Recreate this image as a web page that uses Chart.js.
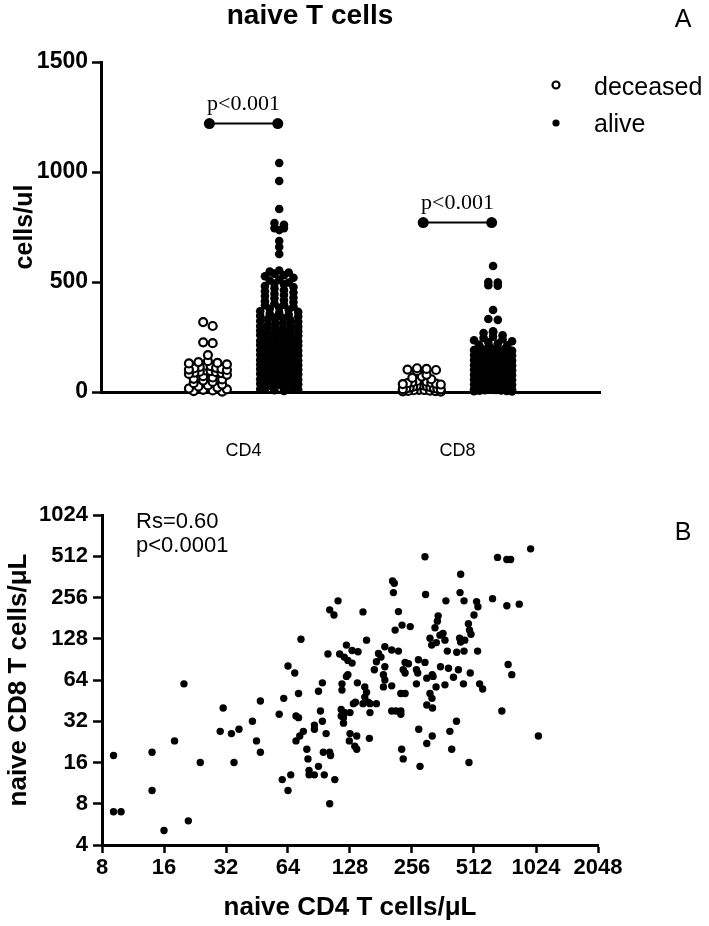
<!DOCTYPE html>
<html>
<head>
<meta charset="utf-8">
<script src="https://cdn.jsdelivr.net/npm/chart.js@4.4.1/dist/chart.umd.min.js"></script>
<style>
  html, body { margin: 0; padding: 0; background: #fff; }
  #wrap { position: relative; width: 709px; height: 926px; }
  canvas { position: absolute; left: 0; }
  #chartA { top: 0; }
  #chartB { top: 470px; }
</style>
</head>
<body>
<div id="wrap">
  <canvas id="chartA" width="709" height="470"></canvas>
  <canvas id="chartB" width="709" height="456"></canvas>
</div>
<script>
// ---- panel A: naive T cells/ul by outcome ----
const groups = ['CD4', 'CD8'];
const cd4Deceased = [318, 300, 226, 222, 168, 140, 136, 132, 130, 126, 120, 118, 114, 110, 108, 105, 102, 100,
  98, 95, 92, 90, 88, 86, 82, 78, 72, 66, 60, 57, 52, 46, 40, 34, 30, 25, 20, 16, 12, 10, 7, 4, 2];
const cd4Alive = [1041, 959, 832, 768, 760, 745, 745, 736, 686, 659, 627,
  552, 547, 543, 538, 531, 526, 519, 511, 507, 498, 493, 489, 482, 477, 471, 463, 458, 452, 447, 441, 436,
  429, 426, 418, 413, 409, 402, 397, 394, 388, 383, 378, 374, 367, 364, 360, 355, 351, 346, 343, 338, 335,
  331, 326, 323, 319, 315, 311, 306, 304, 300, 297, 293, 289, 286, 283, 279, 276, 272, 270, 266, 262, 259,
  256, 252, 249, 246, 243, 240, 236, 233, 231, 227, 223, 221, 217, 214, 211, 208, 205, 203, 199, 196, 193,
  191, 187, 184, 181, 178, 176, 172, 169, 166, 164, 161, 157, 154, 152, 149, 146, 143, 140, 136, 134, 131,
  128, 125, 122, 119, 115, 113, 110, 107, 104, 101, 98, 95, 92, 88, 86, 83, 80, 76, 74, 71, 68, 65, 62, 58,
  56, 53, 50, 47, 44, 41, 37, 35, 32, 29, 26, 23, 20, 17, 14, 11, 8, 5];
const cd8Deceased = [108, 105, 102, 100, 96, 78, 70, 64, 58, 54, 50, 47, 44, 42, 40, 38, 36, 34, 32, 30,
  28, 26, 24, 22, 20, 18, 16, 15, 13, 12, 10, 9, 8, 6, 5, 4, 3, 2];
const cd8Alive = [573, 500, 497, 485, 483, 373, 332, 328, 276, 272, 268,
  258, 251, 246, 240, 235, 231, 226, 220, 216, 212, 207, 203, 198, 195, 191, 187, 184, 180, 177, 174, 171,
  168, 166, 163, 160, 158, 155, 153, 150, 148, 146, 143, 141, 139, 136, 134, 132, 130, 127, 125, 123, 121,
  119, 117, 115, 113, 111, 109, 107, 105, 103, 101, 99, 97, 96, 94, 92, 90, 89, 87, 85, 83, 82, 80, 78, 77,
  75, 73, 72, 70, 68, 67, 65, 64, 62, 60, 59, 57, 56, 54, 53, 51, 50, 48, 47, 45, 44, 43, 41, 40, 38, 37,
  36, 34, 33, 32, 30, 29, 28, 27, 25, 24, 23, 22, 21, 19, 18, 17, 16, 15, 14, 13, 12, 11, 10, 9, 8, 7, 6,
  5, 4, 3];
const pLabels = ['p<0.001', 'p<0.001'];
const pHeights = [1220, 770];
const yTicksA = [0, 500, 1000, 1500];

// ---- panel B: naive CD4 vs naive CD8 (same order in both arrays) ----
const naiveCD4 = [9.1, 9.1, 9.9, 14, 14, 16, 18, 20, 21, 24, 30, 31, 34, 35, 37, 43, 45, 47, 47, 58,
  60, 61, 64, 64, 66, 69, 70, 72, 72, 70, 73, 74, 76, 79, 80, 81, 81, 86, 86, 86,
  90, 90, 92, 94, 94, 95, 96, 98, 100, 102, 107, 102, 103, 102, 108, 112, 114,
  296, 206, 210, 208, 298, 441, 438, 458, 374, 220, 343, 148, 340, 495,
  964, 666, 739, 771, 630, 739, 849, 527, 535, 512, 750, 781, 699, 1052, 545, 564, 533, 484,
  212, 229, 251, 331, 481, 487, 313, 319, 350, 362, 370, 336, 436, 462, 441, 380, 422, 458, 491, 455,
  407, 430, 352, 385, 370, 335, 313, 320, 322, 302, 421, 391, 321, 302, 399, 276, 280, 228, 232, 275,
  296, 269, 273, 269, 302, 321, 324, 237, 246, 232, 237, 226, 237, 204, 214, 226, 226, 189, 176, 181,
  172, 204, 220, 168, 189, 186, 189, 186, 204, 154, 123, 131, 140, 131, 125, 123, 139, 117, 117, 151,
  154, 151, 157, 160, 172, 148, 133, 136, 160, 116, 121, 116, 119, 119, 128, 128, 138, 135, 138, 159,
  127, 120, 125];
const naiveCD8 = [18, 7, 7, 19, 10, 5.1, 23, 60, 6, 16, 27, 40, 26, 16, 28, 32, 23, 45, 19, 36,
  12, 47, 10, 81, 13, 72, 35, 51, 34, 23, 25, 127, 27, 20, 17, 14, 13, 30, 28, 13,
  15, 53, 38, 61, 32, 19, 13, 26, 99, 208, 191, 19, 18, 8, 12, 242, 99,
  508, 338, 325, 278, 269, 378, 278, 242, 242, 202, 188, 201, 172, 138,
  580, 502, 485, 485, 251, 223, 229, 239, 219, 191, 83, 70, 38, 25, 60, 55, 104, 16,
  148, 161, 157, 154, 165, 148, 129, 115, 136, 140, 125, 120, 129, 125, 121, 104, 102, 104, 72, 60,
  67, 76, 80, 78, 59, 57, 51, 47, 40, 42, 32, 27, 25, 22, 20, 28, 15, 20, 17, 90,
  86, 76, 72, 60, 66, 70, 68, 86, 84, 76, 72, 51, 51, 38, 38, 38, 36, 112, 100, 94,
  87, 106, 104, 76, 80, 70, 64, 57, 58, 125, 115, 105, 103, 85, 70, 68, 61, 60, 54, 57,
  52, 48, 44, 43, 43, 43, 43, 44, 37, 39, 37, 35, 34, 31, 37, 26, 25, 21, 20, 24,
  23, 94, 89];
const log2TicksX = [8, 16, 32, 64, 128, 256, 512, 1024, 2048];
const log2TicksY = [4, 8, 16, 32, 64, 128, 256, 512, 1024];
const corrText = ['Rs=0.60', 'p<0.0001'];

const FONT = "'Liberation Sans', Arial, Helvetica, sans-serif";
const SERIF = "'Liberation Serif', 'Times New Roman', serif";
Chart.defaults.font.family = FONT;
Chart.defaults.color = '#000';

const groupPos = [2, 5]; // group centres on the x scale (0..7)

// scatter-dot layout: values in the same row band are spread sideways around the column centre,
// highest of the band in the middle (gives the ^ pattern of prism plots)
function swarm(values, centre) {
  const binSize = 22;           // cells/ul per row
  const stepPx = 9.5, maxHalfPx = 19;
  const unitPx = 499 / 7;       // px per x unit
  const rows = {};
  values.slice().sort((a, b) => b - a).forEach(v => {
    const k = Math.round(v / binSize);
    (rows[k] = rows[k] || []).push(v);
  });
  const out = [];
  Object.keys(rows).forEach(k => {
    const row = rows[k];
    const n = row.length;
    const step = n > 1 ? Math.min(stepPx, 2 * maxHalfPx / (n - 1)) : 0;
    const offs = row.map((_, j) => (j - (n - 1) / 2) * step)
      .sort((a, b) => Math.abs(a) - Math.abs(b) || a - b);
    row.forEach((v, j) => {
      out.push({ x: centre + offs[j] / unitPx, y: v });
    });
  });
  return out;
}

const bracketSets = groups.map((g, i) => ({
  type: 'line',
  label: 'p ' + g,
  data: [{ x: groupPos[i] - 0.48, y: pHeights[i] }, { x: groupPos[i] + 0.48, y: pHeights[i] }],
  borderColor: '#000',
  borderWidth: 2,
  pointRadius: 5.5,
  pointBackgroundColor: '#000',
  pointBorderWidth: 0,
  showLine: true,
  clip: false
}));

const annotateA = {
  id: 'annotateA',
  afterDraw(chart) {
    const { ctx, scales: { x, y } } = chart;
    ctx.save();
    ctx.fillStyle = '#000';
    ctx.textAlign = 'center';
    ctx.textBaseline = 'alphabetic';
    ctx.font = `bold 28px ${FONT}`;
    ctx.fillText('naive T cells', 310, 24);
    ctx.font = `25px ${FONT}`;
    ctx.fillText('A', 683, 27);
    ctx.font = `22px ${SERIF}`;
    groups.forEach((g, i) => {
      ctx.fillText(pLabels[i], x.getPixelForValue(groupPos[i]), y.getPixelForValue(pHeights[i]) - 14);
    });
    // legend
    ctx.beginPath();
    ctx.arc(556, 85, 3.5, 0, Math.PI * 2);
    ctx.fillStyle = '#fff';
    ctx.fill();
    ctx.lineWidth = 2.2;
    ctx.strokeStyle = '#000';
    ctx.stroke();
    ctx.beginPath();
    ctx.arc(556, 123, 3.6, 0, Math.PI * 2);
    ctx.fillStyle = '#000';
    ctx.fill();
    ctx.textAlign = 'left';
    ctx.font = `25px ${FONT}`;
    ctx.fillStyle = '#000';
    ctx.fillText('deceased', 594, 95);
    ctx.fillText('alive', 594, 132);
    ctx.restore();
  }
};

new Chart(document.getElementById('chartA'), {
  type: 'scatter',
  data: {
    datasets: [
      {
        label: 'deceased',
        data: [...swarm(cd4Deceased, groupPos[0] - 0.5), ...swarm(cd8Deceased, groupPos[1] - 0.5)],
        pointRadius: 4,
        pointBackgroundColor: '#fff',
        pointBorderColor: '#000',
        pointBorderWidth: 2.2,
        clip: false
      },
      {
        label: 'alive',
        data: [...swarm(cd4Alive, groupPos[0] + 0.5), ...swarm(cd8Alive, groupPos[1] + 0.5)],
        pointRadius: 4.3,
        pointBackgroundColor: '#000',
        pointBorderWidth: 0,
        clip: false
      },
      ...bracketSets
    ]
  },
  options: {
    responsive: false,
    animation: false,
    devicePixelRatio: 1,
    layout: { padding: { top: 62, right: 109, left: 0, bottom: 0 } },
    plugins: { legend: { display: false }, tooltip: { enabled: false } },
    scales: {
      x: {
        type: 'linear',
        min: 0,
        max: 7,
        afterBuildTicks: s => { s.ticks = groupPos.map(v => ({ value: v })); },
        afterFit: s => { s.height = 78; },
        ticks: {
          callback: (v, i) => groups[i],
          font: { size: 18 },
          color: '#000',
          padding: 40,
          autoSkip: false,
          maxRotation: 0
        },
        grid: { display: false },
        border: { display: true, color: '#000', width: 3 }
      },
      y: {
        min: 0,
        max: 1500,
        afterBuildTicks: s => { s.ticks = yTicksA.map(v => ({ value: v })); },
        afterFit: s => { s.width = 101; },
        ticks: { callback: v => String(v), font: { size: 23, weight: 'bold' }, color: '#000', padding: 4 },
        grid: { drawOnChartArea: false, drawTicks: true, tickLength: 9, tickWidth: 2.5, tickColor: '#000' },
        border: { color: '#000', width: 3 },
        title: {
          display: true,
          text: 'cells/ul',
          font: { size: 25, weight: 'bold' },
          color: '#000',
          padding: { top: 10, bottom: 0 }
        }
      }
    }
  },
  plugins: [annotateA]
});

// ---- panel B ----
const annotateB = {
  id: 'annotateB',
  afterDraw(chart) {
    const { ctx } = chart;
    ctx.save();
    ctx.fillStyle = '#000';
    ctx.textBaseline = 'alphabetic';
    ctx.textAlign = 'left';
    ctx.font = `22px ${FONT}`;
    ctx.fillText(corrText[0], 136, 58);
    ctx.fillText(corrText[1], 136, 82);
    ctx.textAlign = 'center';
    ctx.font = `25px ${FONT}`;
    ctx.fillText('B', 683, 70);
    ctx.restore();
  }
};

new Chart(document.getElementById('chartB'), {
  type: 'scatter',
  data: {
    datasets: [{
      label: 'patients',
      data: naiveCD4.map((v, i) => ({ x: v, y: naiveCD8[i] })),
      pointRadius: 3.7,
      pointBackgroundColor: '#000',
      pointBorderWidth: 0,
      clip: false
    }]
  },
  options: {
    responsive: false,
    animation: false,
    devicePixelRatio: 1,
    layout: { padding: { top: 45, right: 111, left: 0, bottom: 0 } },
    plugins: { legend: { display: false }, tooltip: { enabled: false } },
    scales: {
      x: {
        type: 'logarithmic',
        min: 8,
        max: 2048,
        afterBuildTicks: s => { s.ticks = log2TicksX.map(v => ({ value: v })); },
        afterFit: s => { s.height = 81; },
        ticks: {
          callback: v => String(v),
          font: { size: 22, weight: 'bold' },
          color: '#000',
          padding: 2,
          autoSkip: false,
          maxRotation: 0
        },
        grid: { drawOnChartArea: false, drawTicks: true, tickLength: 8, tickWidth: 2.5, tickColor: '#000' },
        border: { color: '#000', width: 3 },
        title: {
          display: true,
          text: 'naive CD4 T cells/μL',
          font: { size: 26, weight: 'bold' },
          color: '#000',
          padding: { top: 0, bottom: 3 }
        }
      },
      y: {
        type: 'logarithmic',
        min: 4,
        max: 1024,
        afterBuildTicks: s => { s.ticks = log2TicksY.map(v => ({ value: v })); },
        afterFit: s => { s.width = 102; },
        ticks: {
          callback: v => String(v),
          font: { size: 22, weight: 'bold' },
          color: '#000',
          padding: 5,
          autoSkip: false
        },
        grid: { drawOnChartArea: false, drawTicks: true, tickLength: 9, tickWidth: 2.5, tickColor: '#000' },
        border: { color: '#000', width: 3 },
        title: {
          display: true,
          text: 'naive CD8 T cells/μL',
          font: { size: 26, weight: 'bold' },
          color: '#000',
          padding: { top: 3, bottom: 0 }
        }
      }
    }
  },
  plugins: [annotateB]
});
</script>
</body>
</html>
